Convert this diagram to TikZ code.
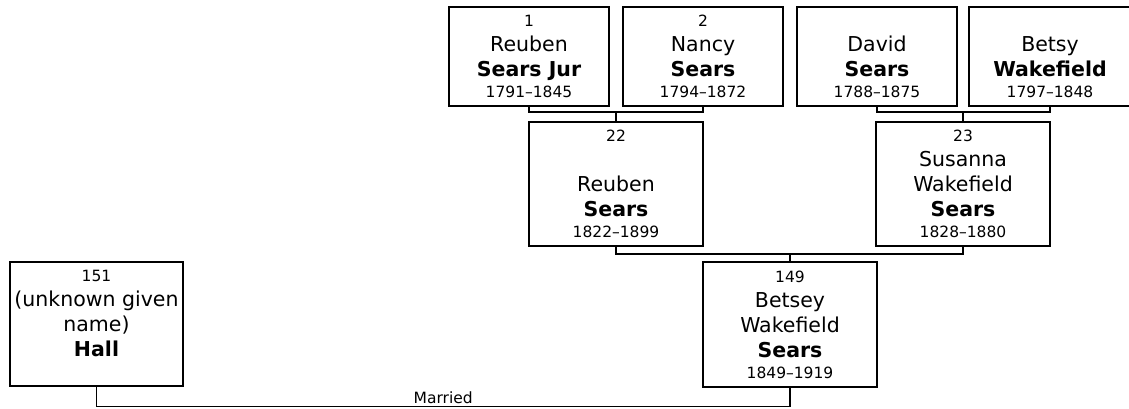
\documentclass[tikz,border=0pt]{standalone}
\usepackage{fontspec}
\setmainfont{DejaVu Sans}
\usepackage{tikz}
\usetikzlibrary{positioning}

\newcommand{\pnum}[1]{{\fontsize{15.5}{25}\selectfont #1}}

\begin{document}
\begin{tikzpicture}[x=1pt, y=-1pt, line width=1.8pt,
  pbox/.style={draw, inner sep=0pt, align=center, minimum width=160pt, minimum height=99pt, font=\fontsize{20.5}{25}\selectfont},
  tall/.style={minimum width=174pt, minimum height=124pt}]
\useasboundingbox (0,0) rectangle (1129,408);

% grandparents
\node[pbox] (b1) at (529,56.5) {\pnum{1}\\ Reuben\\ \textbf{Sears Jur}\\[-4pt] \pnum{1791--1845}};
\node[pbox] (b2) at (703,56.5) {\pnum{2}\\ Nancy\\ \textbf{Sears}\\[-4pt] \pnum{1794--1872}};
\node[pbox] (b3) at (877,56.5) {\pnum{\phantom{1}}\\ David\\ \textbf{Sears}\\[-4pt] \pnum{1788--1875}};
\node[pbox, minimum width=162pt] (b4) at (1050,56.5) {\pnum{\phantom{1}}\\ Betsy\\ \textbf{Wakefield}\\[-4pt] \pnum{1797--1848}};

% parents
\node[pbox, tall] (b22) at (616,184) {\pnum{22}\\ \mbox{}\\ Reuben\\ \textbf{Sears}\\[-4pt] \pnum{1822--1899}};
\node[pbox, tall] (b23) at (963,184) {\pnum{23}\\ Susanna\\ Wakefield\\ \textbf{Sears}\\[-4pt] \pnum{1828--1880}};

% couple
\node[pbox, tall, minimum height=125pt] (b149) at (790,324.5) {\pnum{149}\\ Betsey\\ Wakefield\\ \textbf{Sears}\\[-4pt] \pnum{1849--1919}};
\node[pbox, tall, minimum width=173pt] (b151) at (96.5,324) {\pnum{151}\\ (unknown given\\ name)\\ \textbf{Hall}\\[-4pt] \pnum{\phantom{1}}};

% brackets
\draw (b22.north) -- ++(0,-9) coordinate (m22);
\draw (b1.south) |- (m22) -| (b2.south);
\draw (b23.north) -- ++(0,-9) coordinate (m23);
\draw (b3.south) |- (m23) -| (b4.south);
\draw (b149.north) -- ++(0,-7) coordinate (m149);
\draw (b22.south) |- (m149) -| (b23.south);

% marriage
\draw (b151.south) -- ++(0,19.5) -| (b149.south)
  node[pos=0.25, above, inner sep=1.5pt, font=\fontsize{15.5}{18}\selectfont] (married) {Married};

\end{tikzpicture}
\end{document}
